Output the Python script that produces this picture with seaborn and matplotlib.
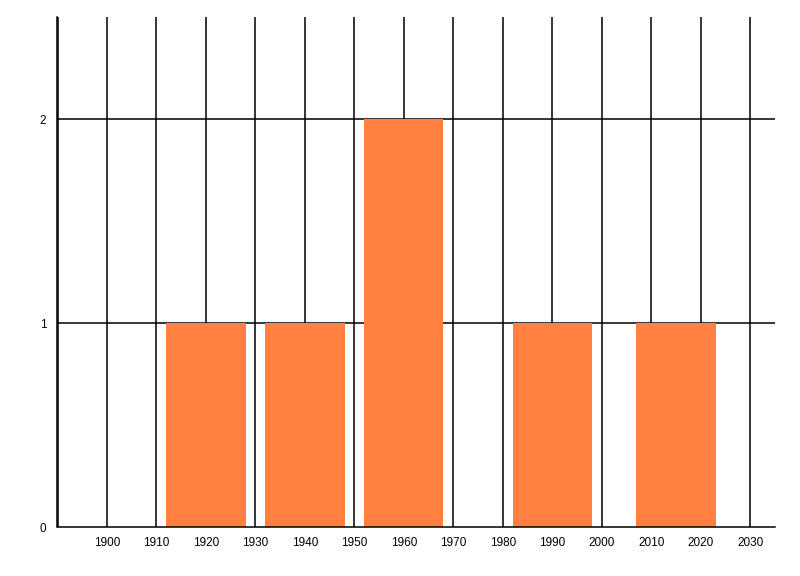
import matplotlib
matplotlib.use("Agg")
import matplotlib.pyplot as plt
import seaborn as sns
import pandas as pd
import numpy as np

# bar centres (years) and counts
years = [1920, 1940, 1960, 1990, 2015]
counts = [1, 1, 2, 1, 1]
x_ticks = list(range(1900, 2031, 10))
y_ticks = [0, 1, 2]

df = pd.DataFrame({"year": years, "count": counts})

sns.set_style("white")
plt.rcParams['font.family'] = ['Liberation Sans', 'DejaVu Sans']

fig = plt.figure(figsize=(8, 5.76), dpi=100)
ax = fig.add_axes([57.5 / 800, (576 - 527) / 576, (775 - 57.5) / 800, (527 - 17) / 576])

sns.barplot(data=df, x="year", y="count", native_scale=True, width=0.8,
            color="#FF8040", saturation=1, linewidth=0, ax=ax, zorder=3)

ax.set_xlim(1890, 2035)
ax.set_ylim(0, 2.5)

# grid lines sit behind the bars
for gx in range(1890, 2031, 10):
    ax.axvline(gx, color="black", lw=1.1, zorder=1)
for gy in y_ticks[1:]:
    ax.axhline(gy, color="black", lw=1.1, zorder=1)

ax.set_xticks(x_ticks)
ax.set_xticklabels([str(t) for t in x_ticks])
ax.set_yticks(y_ticks)
ax.set_yticklabels([str(t) for t in y_ticks])
ax.tick_params(axis="x", length=0, pad=7, labelsize=8.5, colors="black")
ax.tick_params(axis="y", length=6, width=1.1, pad=2, labelsize=8.5, colors="black")
ax.set_xlabel("")
ax.set_ylabel("")

for s in ["top", "right"]:
    ax.spines[s].set_visible(False)
for s in ["left", "bottom"]:
    ax.spines[s].set_color("black")
    ax.spines[s].set_linewidth(1.1)
    ax.spines[s].set_zorder(6)

fig.savefig("out.png", dpi=100)
